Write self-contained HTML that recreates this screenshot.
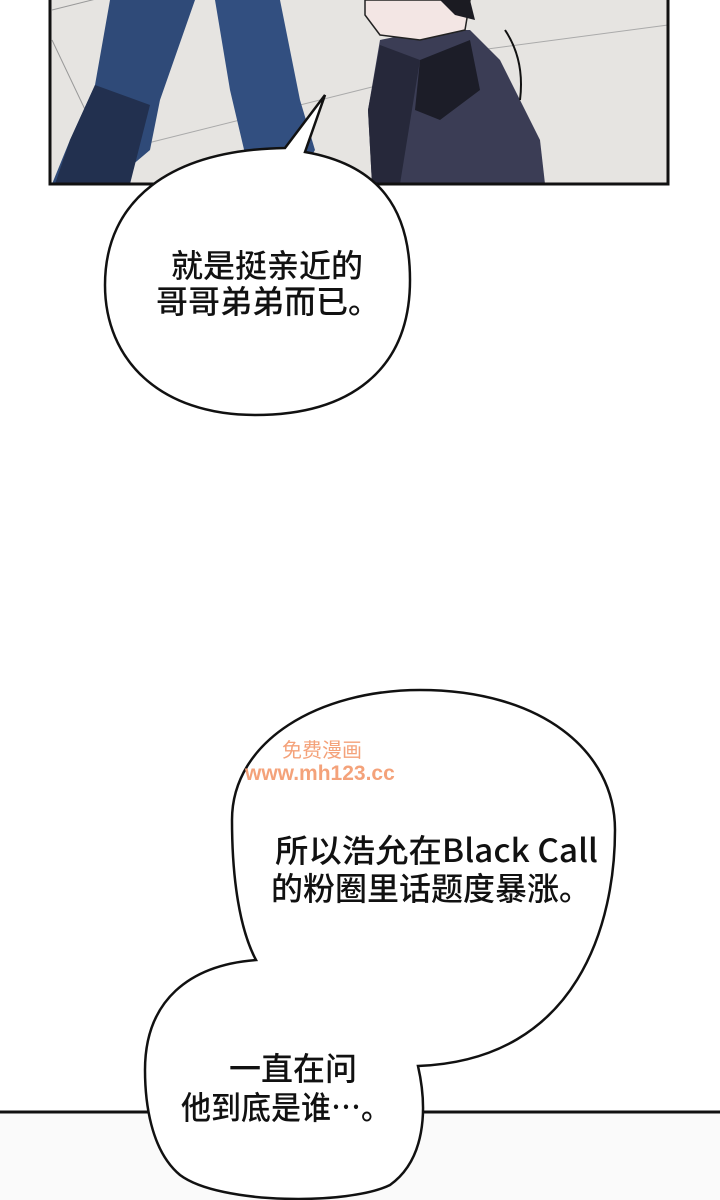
<!DOCTYPE html>
<html><head><meta charset="utf-8"><style>
html,body{margin:0;padding:0;background:#fff;}
svg{display:block}
text{font-family:"Noto Sans CJK SC","Liberation Sans",sans-serif;font-size:32px;font-weight:500;fill:#111;}
</style></head><body>
<svg width="720" height="1200" viewBox="0 0 720 1200" xmlns="http://www.w3.org/2000/svg">
<rect x="0" y="1112" width="720" height="88" fill="#fafafa"/>
<line x1="0" y1="1112" x2="720" y2="1112" stroke="#111" stroke-width="3"/>
<!-- top panel -->
<rect x="50" y="-5" width="618" height="189" fill="#e6e4e1"/>
<polyline points="52,10 100,-2" stroke="#999" fill="none"/>
<polyline points="52,40 90,120" stroke="#999" fill="none"/>
<polyline points="140,145 380,85" stroke="#aaa" fill="none"/>
<polyline points="480,50 668,25" stroke="#aaa" fill="none"/>
<polygon points="110,0 195,0 160,100 150,150 110,184 52,184 70,140 95,85" fill="#2f4a78"/>
<polygon points="95,85 150,105 130,184 55,184 70,140" fill="#22304f"/>
<polygon points="215,0 280,0 300,100 315,150 300,175 250,175 230,90" fill="#324f80"/>
<polygon points="380,40 430,30 470,30 500,60 540,140 545,184 372,184 368,110" fill="#3b3d55"/>
<polygon points="380,45 420,60 400,184 372,184 368,110" fill="#26283a"/>
<polygon points="420,60 470,40 480,90 440,120 415,110" fill="#1c1d28"/>
<path d="M365,0 L470,0 L465,30 L420,40 L380,35 L365,15 Z" fill="#f3e6e4" stroke="#222" stroke-width="1.5"/>
<path d="M440,0 L470,0 L475,20 L455,15 Z" fill="#1b1b22"/>
<path d="M505,30 Q525,60 520,100" stroke="#111" stroke-width="2" fill="none"/>
<rect x="50" y="-5" width="618" height="189" fill="none" stroke="#111" stroke-width="3"/>
<!-- bubble 1 -->
<path d="M285,148 L325,95 L305,152 C380,165 410,210 410,280 C410,370 350,415 255,415 C160,415 105,360 105,285 C105,200 170,150 285,148 Z" fill="#fff" stroke="#111" stroke-width="2.5"/>
<text x="171" y="277">就是挺亲近的</text>
<text x="156" y="313">哥哥弟弟而已。</text>
<!-- bubble 2+3 -->
<path d="M420,690 C540,690 615,750 615,830 C615,920 580,1060 418,1066 C428,1110 425,1160 390,1185 C350,1205 220,1205 180,1175 C150,1150 145,1100 145,1070 C145,1000 190,965 256,960 C240,930 232,880 232,820 C232,740 320,690 420,690 Z" fill="#fff" stroke="#111" stroke-width="2.5"/>
<text x="275" y="862" textLength="323" lengthAdjust="spacingAndGlyphs">所以浩允在Black Call</text>
<text x="271" y="900">的粉圈里话题度暴涨。</text>
<text x="229" y="1080">一直在问</text>
<text x="181" y="1119" textLength="210" lengthAdjust="spacingAndGlyphs">他到底是谁…。</text>
<text x="282" y="757" style="font-size:20px;fill:#f4a27a;font-weight:400">免费漫画</text>
<text x="245" y="780" style="font-size:21px;fill:#f4a27a;font-weight:bold;font-family:'Liberation Sans',sans-serif">www.mh123.cc</text>
</svg>
</body></html>
